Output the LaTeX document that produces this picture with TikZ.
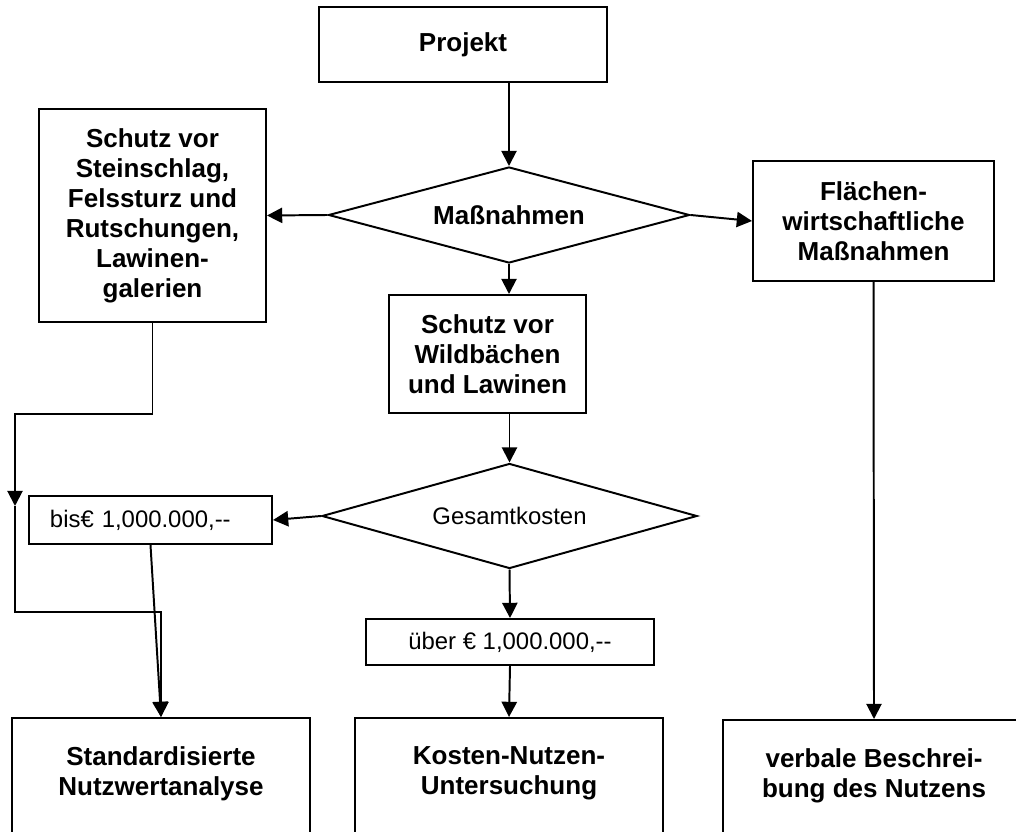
\documentclass[tikz,border=0pt]{standalone}
\usepackage{fontspec}
\setmainfont{Liberation Sans}
\usetikzlibrary{arrows.meta, shapes.geometric}

\begin{document}
\begin{tikzpicture}[
		x=0.025cm, y=-0.025cm,
		line width=1.4pt,
		>={Triangle[length=3.8mm, width=3.8mm]},
		boldtext/.style={font=\bfseries\fontsize{18.5}{21.3}\selectfont},
		plaintext/.style={font=\fontsize{17}{20.4}\selectfont},
		bigbox/.style={rectangle, draw, align=center, inner sep=0pt, boldtext},
		endbox/.style={bigbox, anchor=north, inner ysep=0.72cm, text depth=2.5cm},
		decision/.style={diamond, draw, inner sep=0pt, aspect=3.7},
		pricebox/.style={rectangle, draw, inner sep=0pt, plaintext}
		]
	\useasboundingbox (0,0) rectangle (1016,832);

	\node[bigbox, minimum width=7.2cm, minimum height=1.875cm](P0) at (463,44.5){Projekt};
	\node[decision, boldtext, minimum width=9.025cm, minimum height=2.4cm](M0) at (509,215){Maßnahmen};
	\node[bigbox, minimum width=5.675cm, minimum height=5.325cm](L1) at (152.5,215.5){Schutz vor\\Steinschlag,\\Felssturz und\\Rutschungen,\\Lawinen-\\galerien};
	\node[bigbox, minimum width=6.025cm, minimum height=3cm](R1) at (873.5,221){Flächen-\\wirtschaftliche\\Maßnahmen};
	\node[bigbox, minimum width=4.925cm, minimum height=2.95cm](W1) at (487.5,354){Schutz vor\\Wildbächen\\und Lawinen};
	\node[decision, plaintext, minimum width=9.375cm, minimum height=2.625cm](G0) at (509.5,516){Gesamtkosten};
	\node[pricebox, minimum width=6.075cm, minimum height=1.2cm, text width=5.025cm,
		inner xsep=0.525cm, align=left](B1) at (150.5,520){bis€ 1,000.000,-{}-};
	\node[pricebox, minimum width=7.2cm, minimum height=1.15cm](U1) at (510,642){über € 1,000.000,-{}-};
	\node[endbox, minimum width=7.45cm](N1) at (161,717){Standardisierte\\Nutzwertanalyse};
	\node[endbox, minimum width=7.7cm](K1) at (509,717){Kosten-Nutzen-\\Untersuchung};
	\node[endbox, minimum width=7.55cm](V1) at (874,719){verbale Beschrei-\\bung des Nutzens};

	% Umweg links
	\coordinate (C1) at (15,414);
	\coordinate (C2) at (15,506);
	\coordinate (C3) at (15,612);

	\draw[->] (M0.north |- P0.south) -- (M0.north);
	\draw[->] (M0.west) -- (L1.east);
	\draw[->] (M0.east) -- (R1.west);
	\draw[->] (M0.south) -- (M0.south |- W1.north);
	\draw[->] (G0.north |- W1.south) -- (G0.north);
	\draw[->] (G0.west) -- (B1.east);
	\draw[->] (G0.south) -- (U1.north);
	\draw[->] (U1.south) -- (K1.north);
	\draw[->] (R1.south) -- (V1.north);
	\draw[->] (B1.south) -- (N1.north);
	\draw[->] (L1.south) |- (C1) -- (C2);
	\draw[->] (C2) -- (C3) -| (N1.north);
\end{tikzpicture}
\end{document}
